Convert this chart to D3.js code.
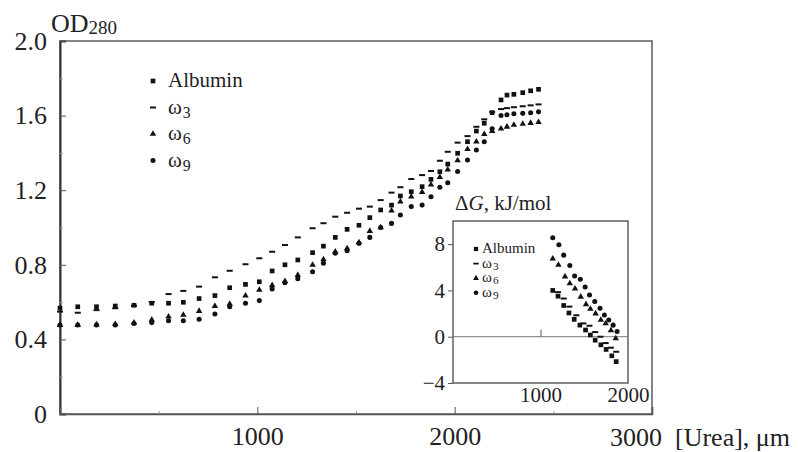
<!DOCTYPE html>
<html>
<head>
<meta charset="utf-8">
<script src="https://cdn.jsdelivr.net/npm/d3@7"></script>
<style>
  body { margin: 0; background: #fff; }
  text { font-family: "Liberation Serif", "Times New Roman", Times, serif; fill: #222; }
</style>
</head>
<body>
<svg id="chart" width="798" height="452"></svg>
<script>
// main chart data (urea in µm, OD280)
const urea = [0, 90, 185, 280, 375, 465, 550, 625, 705, 785, 860, 940, 1010, 1075, 1140, 1205, 1280, 1335, 1395, 1455,
  1515, 1570, 1625, 1680, 1725, 1780, 1835, 1880, 1925, 1965, 2015, 2065, 2110, 2150, 2190, 2235, 2265, 2300, 2345, 2385, 2425];
const albumin = [0.568, 0.575, 0.575, 0.579, 0.583, 0.594, 0.594, 0.599, 0.619, 0.635, 0.677, 0.695, 0.709, 0.767, 0.80,
  0.826, 0.865, 0.90, 0.947, 0.99, 1.012, 1.053, 1.094, 1.12, 1.169, 1.192, 1.219, 1.258, 1.299, 1.34, 1.398, 1.46, 1.517,
  1.559, 1.616, 1.684, 1.71, 1.714, 1.723, 1.733, 1.741];
const omega3 = [0.549, 0.543, 0.557, 0.567, 0.58, 0.60, 0.643, 0.66, 0.683, 0.733, 0.768, 0.803, 0.835, 0.87, 0.906,
  0.947, 0.996, 1.023, 1.058, 1.079, 1.101, 1.112, 1.147, 1.187, 1.216, 1.26, 1.281, 1.303, 1.358, 1.406, 1.455, 1.49,
  1.54, 1.58, 1.62, 1.635, 1.64, 1.645, 1.65, 1.655, 1.66];
const omega6 = [0.477, 0.477, 0.48, 0.482, 0.49, 0.505, 0.522, 0.531, 0.552, 0.579, 0.59, 0.634, 0.665, 0.69, 0.712,
  0.745, 0.799, 0.829, 0.87, 0.888, 0.92, 0.981, 1.0, 1.09, 1.138, 1.165, 1.19, 1.23, 1.27, 1.31, 1.36, 1.42, 1.46,
  1.50, 1.517, 1.53, 1.54, 1.55, 1.555, 1.56, 1.565];
const omega9 = [0.477, 0.477, 0.477, 0.477, 0.485, 0.49, 0.50, 0.50, 0.508, 0.536, 0.575, 0.594, 0.608, 0.67, 0.704,
  0.725, 0.763, 0.808, 0.862, 0.875, 0.915, 0.947, 1.0, 1.022, 1.067, 1.112, 1.12, 1.165, 1.216, 1.24, 1.30, 1.362,
  1.416, 1.46, 1.53, 1.60, 1.605, 1.61, 1.612, 1.615, 1.62];
const yTicks = [0, 0.4, 0.8, 1.2, 1.6, 2.0];
const yMinor = [0.2, 0.6, 1.0, 1.4, 1.8];
const xTicks = [1000, 2000];
const xMinor = [500, 1500, 2500];
const legendLabels = ["Albumin", "ω3", "ω6", "ω9"];

// inset data (urea in µm, ΔG kJ/mol)
const insetAlbuminX = [1140, 1200, 1265, 1325, 1385, 1450, 1515, 1570, 1625, 1690, 1750, 1815, 1865];
const insetAlbumin = [4.0, 3.5, 2.7, 2.05, 1.5, 1.0, 0.58, 0.15, -0.3, -0.7, -1.1, -1.65, -2.15];
const insetOmega3X = [1200, 1265, 1330, 1410, 1490, 1560, 1625, 1685, 1745, 1805, 1865];
const insetOmega3 = [3.85, 3.3, 2.6, 1.85, 1.15, 0.95, 0.4, 0.0, -0.55, -0.95, -1.3];
const insetOmega6X = [1140, 1205, 1280, 1335, 1395, 1460, 1520, 1570, 1630, 1690, 1745, 1805, 1860];
const insetOmega6 = [6.75, 6.2, 5.2, 4.6, 4.15, 3.45, 2.8, 2.4, 2.0, 1.45, 1.15, 0.55, -0.15];
const insetOmega9X = [1140, 1210, 1265, 1335, 1390, 1455, 1510, 1560, 1620, 1680, 1730, 1780, 1830, 1875];
const insetOmega9 = [8.56, 7.95, 7.05, 6.15, 5.25, 4.96, 4.3, 3.6, 3.05, 2.45, 1.88, 1.45, 1.0, 0.45];
const insetYTicks = [-4, 0, 4, 8];
const insetXTicks = [1000, 2000];

const markerTypes = ["square", "dash", "triangle", "circle"];

const svg = d3.select("#chart");

function drawMarker(g, type, cx, cy, k) {
  k = k || 1;
  if (type === "dash") {
    g.append("rect")
      .attr("x", cx - 3 * k).attr("y", cy - 1 * k)
      .attr("width", 6 * k).attr("height", 2 * k)
      .attr("fill", "#111");
    return;
  }
  const sym = type === "square" ? d3.symbolSquare : type === "triangle" ? d3.symbolTriangle : d3.symbolCircle;
  const size = type === "square" ? 22 : type === "triangle" ? 18 : 20;
  g.append("path")
    .attr("d", d3.symbol(sym, size * k * k)())
    .attr("transform", `translate(${cx},${cy})`)
    .attr("fill", "#111");
}

// label like "ω3" -> ω with subscript 3
function addLabel(g, label, x, y, size, subShift) {
  const t = g.append("text").attr("x", x).attr("y", y).attr("font-size", size);
  if (label[0] === "ω") {
    t.append("tspan").text("ω");
    t.append("tspan").attr("font-size", size * 0.75).attr("dy", subShift).attr("dx", 1).text(label.slice(1));
  } else {
    t.text(label);
  }
}

// ---------- main plot ----------
const x = d3.scaleLinear().domain([0, 3000]).range([60, 652]);
const y = d3.scaleLinear().domain([0, 2]).range([414, 41]);

const main = svg.append("g");

main.append("rect")
  .attr("x", x(0)).attr("y", y(2))
  .attr("width", x(3000) - x(0)).attr("height", y(0) - y(2))
  .attr("fill", "none").attr("stroke", "#666").attr("stroke-width", 1.6);

const yAxis = main.append("g")
  .attr("transform", `translate(${x(0)},0)`)
  .call(d3.axisLeft(y).tickValues(yTicks).tickSize(-6).tickPadding(13)
    .tickFormat(d => d === 0 ? "0" : d.toFixed(1)));
yAxis.attr("font-family", null);
yAxis.select(".domain").attr("stroke", "#333").attr("stroke-width", 2);
yAxis.selectAll(".tick line").attr("stroke", "#555");
yAxis.selectAll("text").attr("font-size", 26).attr("fill", "#222");

main.append("g")
  .attr("transform", `translate(${x(0)},0)`)
  .call(d3.axisLeft(y).tickValues(yMinor).tickSize(-3).tickFormat(""))
  .call(g => g.select(".domain").remove())
  .selectAll(".tick line").attr("stroke", "#999");

const xAxis = main.append("g")
  .attr("transform", `translate(0,${y(0)})`)
  .call(d3.axisBottom(x).tickValues(xTicks).tickSize(-7).tickPadding(13).tickFormat(d3.format("d")));
xAxis.attr("font-family", null);
xAxis.select(".domain").attr("stroke", "#555").attr("stroke-width", 1.6);
xAxis.selectAll(".tick line").attr("stroke", "#555");
xAxis.selectAll("text").attr("font-size", 26).attr("fill", "#222");

main.append("g")
  .attr("transform", `translate(0,${y(0)})`)
  .call(d3.axisBottom(x).tickValues(xMinor).tickSize(-3).tickFormat(""))
  .call(g => g.select(".domain").remove())
  .selectAll(".tick line").attr("stroke", "#999");

main.append("text")
  .attr("x", 610).attr("y", 446)
  .attr("font-size", 26)
  .attr("xml:space", "preserve")
  .text("3000  [Urea], μm");

const od = main.append("text").attr("x", 51).attr("y", 32).attr("font-size", 26);
od.append("tspan").text("OD");
od.append("tspan").attr("font-size", 19).attr("dy", 2).text("280");

const series = [albumin, omega3, omega6, omega9];
const points = main.append("g");
series.forEach((vals, si) => {
  vals.forEach((v, i) => drawMarker(points, markerTypes[si], x(urea[i]), y(v)));
});

// main legend
const legend = main.append("g");
legendLabels.forEach((lab, i) => {
  const by = 87 + i * 26.5;
  drawMarker(legend, markerTypes[i], 153, by - 6);
  addLabel(legend, lab, 168, by, 21, 4);
});

// ---------- inset ----------
const ix = d3.scaleLinear().domain([0, 2000]).range([453, 628]);
const iy = d3.scaleLinear().domain([-4, 10]).range([383, 221]);

const inset = svg.append("g");
inset.append("rect")
  .attr("x", ix(0)).attr("y", iy(10))
  .attr("width", ix(2000) - ix(0)).attr("height", iy(-4) - iy(10))
  .attr("fill", "#fff").attr("stroke", "#555").attr("stroke-width", 1.4);

inset.append("line")
  .attr("x1", ix(0)).attr("x2", ix(2000))
  .attr("y1", iy(0)).attr("y2", iy(0))
  .attr("stroke", "#777").attr("stroke-width", 1);

const iyAxis = inset.append("g")
  .attr("transform", `translate(${ix(0)},0)`)
  .call(d3.axisLeft(iy).tickValues(insetYTicks).tickSize(5).tickPadding(3)
    .tickFormat(d => d < 0 ? "\u2212" + Math.abs(d) : d));
iyAxis.attr("font-family", null);
iyAxis.select(".domain").remove();
iyAxis.selectAll(".tick line").attr("stroke", "#555");
iyAxis.selectAll("text").attr("font-size", 21).attr("fill", "#222");

const ixAxis = inset.append("g")
  .attr("transform", `translate(0,${iy(-4)})`)
  .call(d3.axisBottom(ix).tickValues(insetXTicks).tickSize(0).tickPadding(4).tickFormat(d3.format("d")));
ixAxis.attr("font-family", null);
ixAxis.select(".domain").remove();
ixAxis.selectAll("text").attr("font-size", 21).attr("fill", "#222");

inset.append("g")
  .attr("transform", `translate(0,${iy(0)})`)
  .call(d3.axisBottom(ix).tickValues([1000]).tickSize(-7).tickFormat(""))
  .call(g => g.select(".domain").remove())
  .selectAll(".tick line").attr("stroke", "#555");

const dg = inset.append("text").attr("x", 455).attr("y", 210).attr("font-size", 21);
dg.append("tspan").text("Δ");
dg.append("tspan").attr("font-style", "italic").text("G");
dg.append("tspan").text(", kJ/mol");

const insetSeries = [
  [insetAlbuminX, insetAlbumin],
  [insetOmega3X, insetOmega3],
  [insetOmega6X, insetOmega6],
  [insetOmega9X, insetOmega9]
];
const ipoints = inset.append("g");
insetSeries.forEach(([xs, vals], si) => {
  vals.forEach((v, i) => drawMarker(ipoints, markerTypes[si], ix(xs[i]), iy(v)));
});

const ilegend = inset.append("g");
legendLabels.forEach((lab, i) => {
  const by = 253 + i * 14.6;
  drawMarker(ilegend, markerTypes[i], 476, by - 4, 0.9);
  addLabel(ilegend, lab, 482, by, 15, 2);
});
</script>
</body>
</html>
